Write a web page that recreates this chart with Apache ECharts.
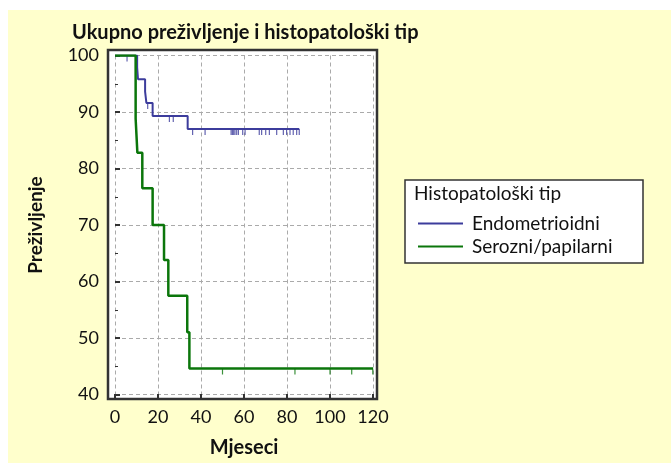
<!DOCTYPE html>
<html>
<head>
<meta charset="utf-8">
<script src="https://cdn.jsdelivr.net/npm/echarts@6/dist/echarts.min.js"></script>
<style>
  html, body { margin: 0; padding: 0; background: #fff; }
  #chart { width: 671px; height: 463px; }
</style>
</head>
<body>
<div id="chart"></div>
<script>
// Kaplan-Meier steps (months, survival %)
const endoTimes = [0, 10.3, 10.7, 14.0, 14.6, 17.5, 33.8, 85.7];
const endoSurv = [100, 97.9, 95.8, 93.6, 91.6, 89.3, 87.0, 87.0];
const endoCensorT = [5.6, 15.2, 25.3, 27.1, 36.1, 41.9, 54.0, 54.6, 55.2, 55.8, 56.6, 57.4, 59.4, 60.5,
  67.1, 68.2, 70.1, 71.8, 75.2, 78.3, 79.8, 81.4, 82.9, 84.5, 85.7];
const endoCensorS = [100, 91.6, 89.3, 89.3, 87.0, 87.0, 87.0, 87.0, 87.0, 87.0, 87.0, 87.0, 87.0, 87.0,
  87.0, 87.0, 87.0, 87.0, 87.0, 87.0, 87.0, 87.0, 87.0, 87.0, 87.0];

const serTimes = [0, 9.6, 10.4, 12.7, 17.5, 22.8, 24.8, 33.6, 34.6, 120];
const serSurv = [100, 88.8, 82.8, 76.5, 70.0, 63.8, 57.5, 51.0, 44.6, 44.6];
const serCensorT = [50.0, 83.7, 100, 110.1, 119.9];
const serCensorS = [44.6, 44.6, 44.6, 44.6, 44.6];

const BLUE = '#3c3c9c';
const GREEN = '#0b760b';
const FONT = 'Lato';

const zip = (a, b) => a.map((v, i) => [v, b[i]]);

const chart = echarts.init(document.getElementById('chart'), null, { renderer: 'canvas' });

chart.setOption({
  backgroundColor: '#ffffff',
  animation: false,
  textStyle: { fontFamily: FONT },
  title: {
    text: 'Ukupno preživljenje i histopatološki tip',
    left: 67, top: 18,
    textStyle: { fontFamily: FONT, fontWeight: 'bold', fontSize: 20, color: '#111' },
  },
  graphic: [
    { type: 'rect', z: -10, shape: { x: 8, y: 10, width: 663, height: 453 }, style: { fill: '#ffffcc' } },
    { type: 'rect', z: -9, shape: { x: 108, y: 50, width: 269, height: 349 }, style: { fill: '#ffffff' } },
    { type: 'rect', z: 50, shape: { x: 108, y: 50, width: 269, height: 349 },
      style: { fill: 'none', stroke: '#333', lineWidth: 2.5 } },
    { type: 'rect', z: 1, shape: { x: 405, y: 180, width: 238, height: 83 },
      style: { fill: '#ffffff', stroke: '#333', lineWidth: 1.5 } },
    { type: 'text', z: 2, left: 414, top: 184,
      style: { text: 'Histopatološki tip', fontFamily: FONT, fontSize: 19, fill: '#111' } },
  ],
  legend: {
    data: ['Endometrioidni', 'Serozni/papilarni'],
    orient: 'vertical',
    left: 413, top: 209,
    icon: 'rect', itemWidth: 45, itemHeight: 2, itemGap: 4,
    textStyle: { fontFamily: FONT, fontSize: 19, color: '#111', padding: [0, 0, 0, 4] },
  },
  grid: { left: 115, right: 298, top: 55.5, bottom: 68.5 },
  xAxis: {
    type: 'value', min: 0, max: 120, interval: 20,
    offset: 4.5,
    name: 'Mjeseci', nameLocation: 'middle', nameGap: 39,
    nameTextStyle: { fontFamily: FONT, fontWeight: 'bold', fontSize: 20, color: '#111' },
    axisLine: { show: false },
    axisTick: { show: true, inside: true, length: 5, lineStyle: { color: '#333', width: 2 } },
    axisLabel: { color: '#111', fontSize: 18, margin: 9, fontFamily: FONT },
    splitLine: { show: true, lineStyle: { color: '#aaa', type: [4, 3], width: 1 } },
  },
  yAxis: {
    type: 'value', min: 40, max: 100, interval: 10,
    offset: 7,
    name: 'Preživljenje', nameLocation: 'middle', nameGap: 63, nameRotate: 90,
    nameTextStyle: { fontFamily: FONT, fontWeight: 'bold', fontSize: 19, color: '#111' },
    axisLine: { show: false },
    axisTick: { show: true, inside: true, length: 5, lineStyle: { color: '#333', width: 2 } },
    minorTick: { show: true, splitNumber: 2, length: 3, lineStyle: { color: '#333', width: 1 } },
    axisLabel: { color: '#111', fontSize: 18, margin: 9, fontFamily: FONT },
    splitLine: { show: true, lineStyle: { color: '#aaa', type: [4, 3], width: 1 } },
  },
  series: [
    {
      name: 'Endometrioidni', type: 'line', step: 'end', symbol: 'none',
      data: zip(endoTimes, endoSurv),
      lineStyle: { color: BLUE, width: 2 }, itemStyle: { color: BLUE }, z: 3,
    },
    {
      name: 'Endometrioidni-c', type: 'scatter', symbol: 'rect', symbolSize: [1.2, 6], symbolOffset: [0, 3],
      data: zip(endoCensorT, endoCensorS), itemStyle: { color: BLUE }, z: 3, silent: true,
    },
    {
      name: 'Serozni/papilarni', type: 'line', step: 'end', symbol: 'none',
      data: zip(serTimes, serSurv),
      lineStyle: { color: GREEN, width: 2.5 }, itemStyle: { color: GREEN }, z: 4,
    },
    {
      name: 'Serozni-c', type: 'scatter', symbol: 'rect', symbolSize: [1.2, 6], symbolOffset: [0, 3],
      data: zip(serCensorT, serCensorS), itemStyle: { color: GREEN }, z: 4, silent: true,
    },
  ],
});
</script>
</body>
</html>
